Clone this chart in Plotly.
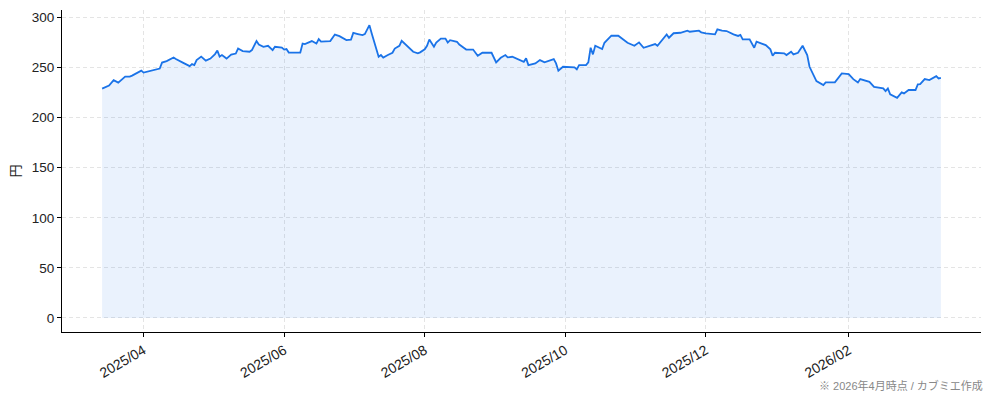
import plotly.graph_objects as go

dates = [
    "2025-03-14", "2025-03-17", "2025-03-19", "2025-03-21", "2025-03-24", "2025-03-26",
    "2025-03-27", "2025-03-31", "2025-04-01", "2025-04-08", "2025-04-09", "2025-04-11",
    "2025-04-14", "2025-04-15", "2025-04-18", "2025-04-21", "2025-04-22", "2025-04-23",
    "2025-04-24", "2025-04-26", "2025-04-28", "2025-04-30", "2025-05-02", "2025-05-03",
    "2025-05-04", "2025-05-05", "2025-05-07", "2025-05-09", "2025-05-11", "2025-05-12",
    "2025-05-14", "2025-05-17", "2025-05-18", "2025-05-20", "2025-05-21", "2025-05-23",
    "2025-05-25", "2025-05-27", "2025-05-28", "2025-05-31", "2025-06-01", "2025-06-02",
    "2025-06-03", "2025-06-08", "2025-06-09", "2025-06-10", "2025-06-13", "2025-06-15",
    "2025-06-16", "2025-06-17", "2025-06-21", "2025-06-23", "2025-06-25", "2025-06-28",
    "2025-06-30", "2025-07-01", "2025-07-03", "2025-07-05", "2025-07-06", "2025-07-08",
    "2025-07-09", "2025-07-12", "2025-07-13", "2025-07-14", "2025-07-16", "2025-07-18",
    "2025-07-19", "2025-07-21", "2025-07-22", "2025-07-25", "2025-07-27", "2025-07-29",
    "2025-07-30", "2025-08-01", "2025-08-02", "2025-08-03", "2025-08-05", "2025-08-06",
    "2025-08-08", "2025-08-10", "2025-08-11", "2025-08-12", "2025-08-15", "2025-08-16",
    "2025-08-19", "2025-08-22", "2025-08-24", "2025-08-26", "2025-08-30", "2025-09-01",
    "2025-09-03", "2025-09-05", "2025-09-06", "2025-09-08", "2025-09-10", "2025-09-13",
    "2025-09-14", "2025-09-15", "2025-09-18", "2025-09-20", "2025-09-22", "2025-09-26",
    "2025-09-27", "2025-09-28", "2025-09-30", "2025-10-05", "2025-10-06", "2025-10-07",
    "2025-10-10", "2025-10-11", "2025-10-12", "2025-10-13", "2025-10-14", "2025-10-17",
    "2025-10-18", "2025-10-21", "2025-10-24", "2025-10-25", "2025-10-28", "2025-10-31",
    "2025-11-02", "2025-11-04", "2025-11-07", "2025-11-09", "2025-11-10", "2025-11-13",
    "2025-11-14", "2025-11-15", "2025-11-17", "2025-11-20", "2025-11-23", "2025-11-24",
    "2025-11-28", "2025-11-29", "2025-12-01", "2025-12-05", "2025-12-06", "2025-12-08",
    "2025-12-10", "2025-12-13", "2025-12-15", "2025-12-16", "2025-12-17", "2025-12-20",
    "2025-12-22", "2025-12-23", "2025-12-25", "2025-12-27", "2025-12-29", "2025-12-30",
    "2025-12-31", "2026-01-04", "2026-01-05", "2026-01-07", "2026-01-08", "2026-01-10",
    "2026-01-12", "2026-01-14", "2026-01-15", "2026-01-18", "2026-01-21", "2026-01-22",
    "2026-01-26", "2026-01-29", "2026-02-01", "2026-02-03", "2026-02-05", "2026-02-06",
    "2026-02-10", "2026-02-12", "2026-02-16", "2026-02-17", "2026-02-18", "2026-02-19",
    "2026-02-22", "2026-02-24", "2026-02-25", "2026-02-27", "2026-03-02", "2026-03-03",
    "2026-03-04", "2026-03-06", "2026-03-08", "2026-03-11", "2026-03-12", "2026-03-13",
]

prices = [
    229, 232, 237.5, 235, 241, 241,
    242, 247, 245, 249, 255, 256.5,
    260, 258.5, 255, 251.5, 253.5, 252.5,
    257.5, 261, 257, 259, 263.5, 267,
    261, 262.5, 259, 263, 264, 269,
    266.5, 265.8, 267.5, 276.5, 273, 270.8,
    271.8, 267.5, 270.8, 270, 268, 268.5,
    265, 265, 274, 273.5, 276.5, 274,
    278.5, 276, 276.5, 283, 281.4, 277.5,
    278, 284.7, 283.5, 282.4, 283.5, 292.4,
    284, 260.8, 262.5, 260, 262.5, 264.8,
    269, 271.8, 276.8, 270.8, 265.8, 264.2,
    265.2, 268.2, 271.8, 278, 270.8, 275,
    279, 279, 275, 277.4, 275.8, 273,
    268, 268, 261.8, 264.8, 264.8, 255.2,
    259.8, 262.5, 260.2, 260.8, 258.5, 255.8,
    259.2, 252.5, 254.2, 257.5, 255.2, 258.5,
    254.2, 246.8, 250.8, 250.2, 248.2, 252.5,
    252.5, 255.2, 269.8, 263.2, 271.8, 268.5,
    274.8, 281.8, 281.8, 280.1, 274.8, 271.8,
    275.2, 269.8, 272.5, 273.5, 271.8, 279.8,
    283.1, 279.8, 284.3, 284.8, 286.8, 285.8,
    286.8, 285.2, 284.2, 283.2, 288.2, 286.8,
    286.5, 283.2, 281.6, 282.6, 278.2, 278.2,
    269.8, 275.8, 274.2, 272.5, 268.2, 261.8,
    264.8, 264.2, 262.5, 265.8, 263.2, 264.8,
    271.8, 262.5, 250.8, 236.5, 232.5, 235.2,
    235.2, 244.2, 243.5, 238.5, 235.2, 238.5,
    235.8, 230.8, 229.2, 226.5, 229.2, 223.2,
    219.8, 225.2, 224.2, 227.6, 227.6, 233.2,
    233.5, 238.5, 237.5, 241.5, 239.2, 239.8,
]

y_ticks = [0, 50, 100, 150, 200, 250, 300]
x_ticks = ["2025-04-01", "2025-06-01", "2025-08-01", "2025-10-01", "2025-12-01", "2026-02-01"]
x_tick_labels = ["2025/04", "2025/06", "2025/08", "2025/10", "2025/12", "2026/02"]
y_title = "円"
note = "※ 2026年4月時点 / カブミエ作成"

LINE = "#1a73e8"
FONT = "Liberation Sans, Noto Sans CJK JP, sans-serif"

fig = go.Figure()
fig.add_trace(go.Scatter(
    x=dates, y=prices, mode="lines",
    line=dict(color=LINE, width=1.8),
    fill="tozeroy", fillcolor="rgba(26,115,232,0.09)",
    hoverinfo="x+y", showlegend=False,
))

grid = dict(showgrid=True, gridcolor="#e4e4e4", griddash="4px,3px", gridwidth=1)

fig.update_layout(
    width=994, height=401,
    margin=dict(l=54, r=21, t=2, b=77),
    paper_bgcolor="white", plot_bgcolor="white",
    font=dict(family=FONT, size=13, color="#222"),
    xaxis=dict(
        type="date", automargin=False,
        range=["2025-02-24 14:00", "2026-03-30 10:00"],
        tickvals=x_ticks, ticktext=x_tick_labels,
        tickangle=-30, ticks="outside", ticklen=4, tickcolor="#000",
        tickfont=dict(size=14),
        showline=True, linecolor="#000", linewidth=1,
        zeroline=False, **grid,
    ),
    yaxis=dict(
        automargin=False,
        range=[-14, 307.5],
        tickvals=y_ticks, ticks="outside", ticklen=4, tickcolor="#000",
        tickfont=dict(size=13.5),
        showline=True, linecolor="#000", linewidth=1,
        zeroline=False,
        title=dict(text=y_title, standoff=11, font=dict(size=13)),
        **grid,
    ),
    annotations=[dict(
        text=note, xref="paper", yref="paper", x=1.0, y=-0.14,
        xanchor="right", yanchor="top", showarrow=False,
        font=dict(size=11, color="#888"), xshift=4,
    )],
)

fig.write_html("out.html")
